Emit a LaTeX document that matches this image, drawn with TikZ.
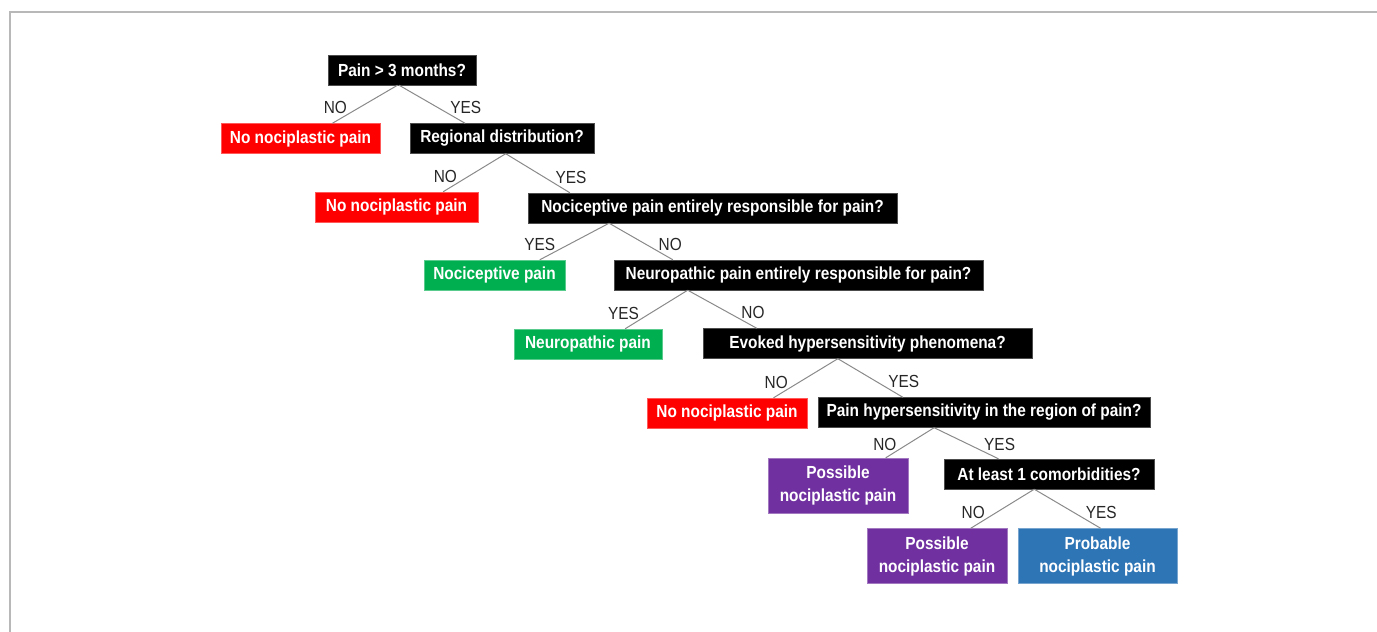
\documentclass[tikz,border=0pt]{standalone}
\usepackage{fontspec}
\newfontfamily\chartfont{Liberation Sans}[FakeStretch=0.88]
\usepackage{xcolor}
\usepackage{tikz}
\usetikzlibrary{calc,positioning}

\definecolor{noRed}{HTML}{FF0000}
\definecolor{okGreen}{HTML}{00B050}
\definecolor{maybePurple}{HTML}{7030A0}
\definecolor{likelyBlue}{HTML}{2E75B6}
\definecolor{branchGray}{HTML}{8A8A8A}

\begin{document}
\begin{tikzpicture}[x=1pt, y=-1pt,
  box/.style={rectangle, inner sep=0pt, minimum height=30pt, text=white, align=center,
    font=\chartfont\bfseries\fontsize{17.5}{23}\selectfont},
  qbox/.style={box, fill=black, draw=black!70},
  redbox/.style={box, fill=noRed, draw=noRed!65!white},
  greenbox/.style={box, fill=okGreen, draw=okGreen!65!white},
  purplebox/.style={box, fill=maybePurple, draw=maybePurple!65!white, minimum height=55pt},
  bluebox/.style={box, fill=likelyBlue, draw=likelyBlue!65!white, minimum height=55pt},
  conn/.style={draw=branchGray, line width=1pt},
  ans/.style={inner sep=0pt, text=black!85, font=\chartfont\fontsize{17.5}{21}\selectfont},
  leftlbl/.style={ans, pos=.77, anchor=south east},
  rightlbl/.style={ans, pos=.77, anchor=south west}]

% ---------------- 1. FRAME ----------------
\useasboundingbox (0,0) rectangle (1377,632);
\draw[black!28, line width=1.5pt] (10,632) -- (10,12) -- (1377,12);

% ---------------- 2. QUESTIONS (black) ----------------
\node[qbox, minimum width=148pt] (q1) at (402,70) {Pain > 3 months?};
\node[qbox, minimum width=184pt] (q2) at (502,138.5) {Regional distribution?};
\node[qbox, minimum width=369pt] (q3) at (712.5,208) {Nociceptive pain entirely responsible for pain?};
\node[qbox, minimum width=369pt] (q4) at (798.5,275) {Neuropathic pain entirely responsible for pain?};
\node[qbox, minimum width=329pt] (q5) at (867.5,343.5) {Evoked hypersensitivity phenomena?};
\node[qbox, minimum width=332pt] (q6) at (984,412.5) {Pain hypersensitivity in the region of pain?};
\node[qbox, minimum width=210pt] (q7) at (1049,474) {At least 1 comorbidities?};

% ---------------- 3. OUTCOMES ----------------
\node[redbox, minimum width=159pt] (n1) at (300.5,138.5) {No nociplastic pain};
\node[redbox, minimum width=163pt] (n2) at (396.5,207) {No nociplastic pain};
\node[greenbox, minimum width=141pt] (g1) at (494.5,275) {Nociceptive pain};
\node[greenbox, minimum width=148pt] (g2) at (588,344) {Neuropathic pain};
\node[redbox, minimum width=160pt] (n3) at (727,413) {No nociplastic pain};
\node[purplebox, minimum width=140pt] (p1) at (838,485.5) {Possible\\nociplastic pain};
\node[purplebox, minimum width=140pt] (p2) at (937,556) {Possible\\nociplastic pain};
\node[bluebox, minimum width=159pt] (b1) at (1097.5,556) {Probable\\nociplastic pain};

% ---------------- 4. BRANCHES ----------------
\draw[conn] ($(q1.south west)!.47!(q1.south east)$) -- node[leftlbl] {NO} ($(n1.north west)!.70!(n1.north east)$);
\draw[conn] ($(q1.south west)!.48!(q1.south east)$) -- node[rightlbl] {YES} ($(q2.north west)!.30!(q2.north east)$);

\draw[conn] ($(q2.south west)!.52!(q2.south east)$) -- node[leftlbl] {NO} ($(n2.north west)!.785!(n2.north east)$);
\draw[conn] ($(q2.south west)!.52!(q2.south east)$) -- node[rightlbl] {YES} ($(q3.north west)!.114!(q3.north east)$);

\draw[conn] ($(q3.south west)!.22!(q3.south east)$) -- node[leftlbl] {YES} ($(g1.north west)!.82!(g1.north east)$);
\draw[conn] ($(q3.south west)!.22!(q3.south east)$) -- node[rightlbl] {NO} ($(q4.north west)!.16!(q4.north east)$);

\draw[conn] ($(q4.south west)!.20!(q4.south east)$) -- node[leftlbl] {YES} ($(g2.north west)!.75!(g2.north east)$);
\draw[conn] ($(q4.south west)!.20!(q4.south east)$) -- node[rightlbl] {NO} ($(q5.north west)!.164!(q5.north east)$);

\draw[conn] ($(q5.south west)!.41!(q5.south east)$) -- node[leftlbl] {NO} ($(n3.north west)!.79!(n3.north east)$);
\draw[conn] ($(q5.south west)!.41!(q5.south east)$) -- node[rightlbl] {YES} ($(q6.north west)!.256!(q6.north east)$);

\draw[conn] ($(q6.south west)!.35!(q6.south east)$) -- node[leftlbl] {NO} ($(p1.north west)!.84!(p1.north east)$);
\draw[conn] ($(q6.south west)!.35!(q6.south east)$) -- node[rightlbl] {YES} ($(q7.north west)!.26!(q7.north east)$);

\draw[conn] ($(q7.south west)!.43!(q7.south east)$) -- node[leftlbl] {NO} ($(p2.north west)!.74!(p2.north east)$);
\draw[conn] ($(q7.south west)!.43!(q7.south east)$) -- node[rightlbl] {YES} ($(b1.north west)!.52!(b1.north east)$);

\end{tikzpicture}
\end{document}
